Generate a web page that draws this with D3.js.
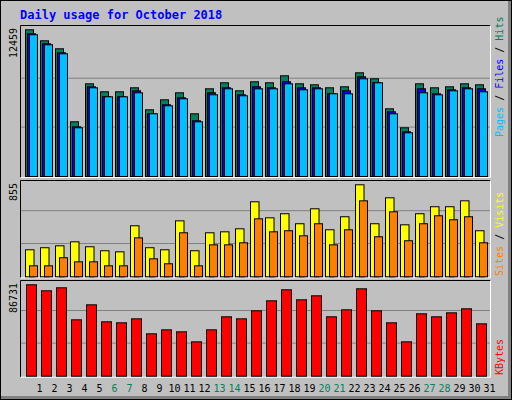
<!DOCTYPE html><html><head><meta charset="utf-8"><script src="https://d3js.org/d3.v7.min.js"></script>
<style>body{margin:0;background:#fff}</style></head><body><script>
const days=d3.range(1,32);
const weekend=[6,7,13,14,20,21,27,28];
const hits=[12459,11525,10845,4644,7872,7193,7193,7533,5664,6513,7108,5324,7448,7958,7278,8043,7958,8552,7872,7788,7533,7618,8807,8297,5749,4135,7872,7533,7618,7872,7788];
const files=[12121,11271,10506,4220,7618,6768,6768,7278,5324,6089,6683,4729,7108,7533,6938,7618,7533,8043,7533,7533,7023,7278,8467,7958,5494,3795,7448,7023,7363,7533,7448];
const pages=[12036,11186,10422,4135,7533,6768,6768,7108,5324,6004,6599,4644,6938,7448,6853,7448,7448,7872,7363,7448,7023,7023,8297,7958,5324,3710,7108,6938,7278,7448,7193];
const sites=[251,270,288,325,279,242,232,474,270,251,520,242,409,418,446,697,548,586,493,632,437,558,855,493,734,483,586,651,651,706,428];
const visits=[102,102,177,139,139,102,102,362,167,121,409,102,297,297,316,539,418,428,381,493,297,437,706,372,604,335,493,567,530,558,316];
const kbytes=[86731,81032,83880,53494,67737,51596,50645,54444,40200,43998,42099,32603,43998,56343,54444,62041,71536,81982,72486,76286,56343,62990,82932,62041,50645,32603,59192,56343,60142,63940,49696];
const svg=d3.select("body").append("svg").attr("width",512).attr("height",400);
svg.append("rect").attr("width",512).attr("height",400).attr("fill","#fff");
svg.append("rect").attr("x",1).attr("y",1).attr("width",510).attr("height",398).attr("fill","#c0c0c0");
svg.append("rect").attr("x",1).attr("y",396).attr("width",510).attr("height",3).attr("fill","#808080");
svg.append("rect").attr("x",508).attr("y",1).attr("width",3).attr("height",398).attr("fill","#808080");
svg.append("rect").attr("x",0.5).attr("y",0.5).attr("width",511).attr("height",399).attr("fill","none").attr("stroke","#000");
svg.append("text").attr("x",20).attr("y",19).text("Daily usage for October 2018").attr("fill","#0000ff").attr("font-family","DejaVu Sans Mono").attr("font-weight","bold").attr("font-size",12);
const x=d3.scaleBand().domain(days).range([22,487]).paddingInner(0);
const panels=[{top:25,base:176,maxY:29.3,max:12459,label:"12459"},{top:180,base:276.3,maxY:184.3,max:855,label:"855"},{top:280,base:375.7,maxY:284.3,max:86731,label:"86731"}];
panels.forEach(p=>{
  p.y=d3.scaleLinear().domain([0,p.max]).range([p.base,p.maxY]);
  svg.append("rect").attr("x",20.5).attr("y",p.top+0.5).attr("width",470).attr("height",p.base-p.top+1).attr("fill","#c0c0c0").attr("stroke","none");
  [1/3,2/3].forEach(f=>svg.append("line").attr("x1",21).attr("x2",490).attr("y1",p.base-(p.base-p.maxY)*f*(p===panels[0]?1.0:1.07)).attr("y2",p.base-(p.base-p.maxY)*f*(p===panels[0]?1.0:1.07)).attr("stroke","#808080").attr("stroke-width",1));
  svg.append("path").attr("d",`M20.5,${p.base+1.5}V${p.top+0.5}H490.5`).attr("fill","none").attr("stroke","#000");
  svg.append("path").attr("d",`M20.5,${p.base+1.5}H490.5V${p.top+0.5}`).attr("fill","none").attr("stroke","#fff");
  svg.append("text").attr("transform",`translate(17,${p.top+3}) rotate(-90)`).attr("text-anchor","end").text(p.label).attr("font-family","DejaVu Sans Mono").attr("font-size",10);
});
function bars(data,panel,off,w,color){
  svg.append("g").selectAll("rect").data(data).join("rect")
   .attr("x",(d,i)=>x(days[i])+off+0.5).attr("width",w)
   .attr("y",d=>panel.y(d)+0.5).attr("height",d=>panel.base-panel.y(d))
   .attr("fill",color).attr("stroke","#000").attr("stroke-width",1);
}
bars(hits,panels[0],3,8,"#00805c");
bars(files,panels[0],5,8,"#0000ff");
bars(pages,panels[0],7,8,"#00bfff");
bars(sites,panels[1],3,8.5,"#ffff00");
bars(visits,panels[1],7,8,"#ff8000");
bars(kbytes,panels[2],4,10,"#ff0000");
svg.append("g").selectAll("text").data(days).join("text")
 .attr("x",d=>x(d)+x.bandwidth()/2+10).attr("y",392).attr("text-anchor","middle")
 .text(d=>d).attr("font-family","DejaVu Sans Mono").attr("font-size",10)
 .attr("fill",d=>weekend.includes(d)?"#00805c":"#000");
function rlabel(yy,parts){
  const t=svg.append("text").attr("transform",`translate(503,${yy}) rotate(-90)`).attr("font-family","DejaVu Sans Mono").attr("font-size",10);
  parts.forEach(([s,c])=>t.append("tspan").text(s).attr("fill",c));
}
rlabel(137,[["Pages","#00bfff"],[" / ","#000"],["Files","#0000ff"],[" / ","#000"],["Hits","#00805c"]]);
rlabel(276,[["Sites","#ff8000"],[" / ","#000"],["Visits","#ffff00"]]);
rlabel(375,[["KBytes","#ff0000"]]);
</script></body></html>
